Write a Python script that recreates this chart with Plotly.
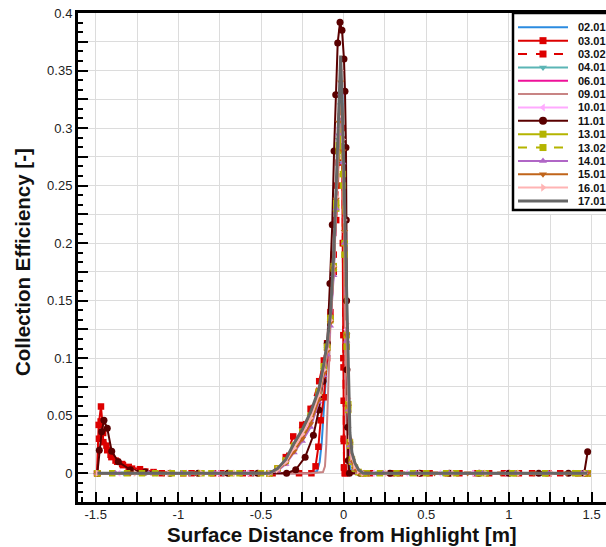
import plotly.graph_objects as go

# ---------------- data ----------------
SERIES_NAMES = ["02.01", "03.01", "03.02", "04.01", "06.01", "09.01", "10.01",
                "11.01", "13.01", "13.02", "14.01", "15.01", "16.01", "17.01"]

# shared surface-distance samples of the main impingement zone (left group)
RISE_X = [-0.45, -0.4, -0.35, -0.3, -0.25, -0.2, -0.15, -0.12, -0.1, -0.08, -0.06,
          -0.045, -0.03, -0.018, -0.005, 0.005, 0.018, 0.028, 0.038, 0.05, 0.068,
          0.09, 0.117]

X_0201 = [-1.49, -0.2, -0.16, -0.145, -0.133, -0.113, -0.095, -0.075, -0.055, -0.035,
          -0.02, -0.008, 0.0, 0.006, 0.014, 0.025, 0.04, 0.06, 1.475]
Y_0201 = [0, 0, 0.002, 0.01, 0.026, 0.069, 0.11, 0.155, 0.21, 0.27,
          0.32, 0.33, 0.26, 0.16, 0.07, 0.02, 0.004, 0, 0]

X_0301 = [-1.492, -1.482, -1.468, -1.46, -1.454, -1.43, -1.405, -1.38, -1.34, -1.30,
          -1.232, -1.15, -0.97, -0.79, -0.61, -0.43, -0.27,
          -0.195, -0.17, -0.153, -0.139, -0.12, -0.1, -0.08, -0.06, -0.04, -0.02,
          -0.01, -0.004, -0.002, -0.001, 0.0, 0.001, 0.003, 0.01,
          0.12, 0.29, 0.46, 0.63, 0.8, 0.97, 1.14, 1.31, 1.475]
Y_0301 = [0, 0.042, 0.058, 0.045, 0.027, 0.02, 0.014, 0.011, 0.008, 0.0055,
          0.0035, 0.001, 0, 0, 0, 0, 0,
          0, 0.006, 0.023, 0.046, 0.066, 0.1, 0.14, 0.19, 0.25, 0.3,
          0.3, 0.2, 0.12, 0.092, 0.063, 0.028, 0.005, 0,
          0, 0, 0, 0, 0, 0, 0, 0, 0]

X_0302 = [-1.49, -1.48, -1.47, -1.455, -1.435, -1.41, -1.37, -1.335, -1.28, -1.2,
          -1.1, -0.92, -0.74, -0.56, -0.45,
          -0.4, -0.35, -0.305, -0.25, -0.2, -0.148, -0.12, -0.1, -0.08, -0.06,
          -0.045, -0.03, -0.018, -0.008, -0.004, -0.002, 0.0, 0.002, 0.006,
          0.16, 0.34, 0.52, 0.7, 0.88, 1.06, 1.24, 1.42, 1.475]
Y_0302 = [0, 0.03, 0.045, 0.035, 0.024, 0.016, 0.01, 0.007, 0.004, 0.0015,
          0, 0, 0, 0, 0,
          0.004, 0.014, 0.032, 0.042, 0.056, 0.08, 0.098, 0.113, 0.135, 0.175,
          0.22, 0.27, 0.3, 0.29, 0.2, 0.1, 0.03, 0.005, 0,
          0, 0, 0, 0, 0, 0, 0, 0, 0]

X_0401 = [-1.49, -1.33, -1.13, -0.93, -0.73, -0.55] + RISE_X + \
         [0.2, 0.4, 0.6, 0.8, 1.0, 1.2, 1.4, 1.475]
Y_0401 = [0, 0, 0, 0, 0, 0] + \
         [0, 0.003, 0.009, 0.02, 0.032, 0.046, 0.068, 0.09, 0.108, 0.132, 0.176,
          0.232, 0.29, 0.32, 0.27, 0.2, 0.12, 0.058, 0.025, 0.011, 0.004, 0.001, 0] + \
         [0, 0, 0, 0, 0, 0, 0, 0]

X_0601 = [-1.49] + RISE_X + [1.475]
Y_0601 = [0] + \
         [0, 0.003, 0.01, 0.021, 0.032, 0.046, 0.067, 0.089, 0.107, 0.132, 0.179,
          0.24, 0.305, 0.34, 0.27, 0.2, 0.11, 0.05, 0.02, 0.008, 0.003, 0.001, 0] + [0]

X_0901 = [-1.49, -0.2, -0.125, -0.113, -0.105, -0.097, -0.089, -0.075, -0.06, -0.04,
          -0.02, -0.008, 0.0, 0.005, 0.012, 0.02, 0.03, 1.475]
Y_0901 = [0, 0, 0.001, 0.006, 0.025, 0.06, 0.098, 0.15, 0.2, 0.26,
          0.31, 0.32, 0.25, 0.15, 0.06, 0.015, 0, 0]

X_1001 = [-1.49, -1.36, -1.16, -0.96, -0.76, -0.58] + RISE_X + \
         [0.18, 0.38, 0.58, 0.78, 0.98, 1.18, 1.38, 1.475]
Y_1001 = [0, 0, 0, 0, 0, 0] + \
         [0, 0.003, 0.009, 0.02, 0.031, 0.045, 0.066, 0.088, 0.105, 0.13, 0.175,
          0.235, 0.3, 0.34, 0.28, 0.21, 0.125, 0.06, 0.027, 0.012, 0.005, 0.001, 0] + \
         [0, 0, 0, 0, 0, 0, 0, 0]

X_1101 = [-1.49, -1.478, -1.464, -1.45, -1.43, -1.403, -1.363, -1.29, -1.2, -1.05,
          -0.88, -0.7, -0.52, -0.345, -0.29, -0.233, -0.183, -0.15, -0.125, -0.099,
          -0.083, -0.069, -0.058, -0.048, -0.036, -0.022, -0.01, 0.002, 0.008, 0.014,
          0.016, 0.018, 0.02, 0.024, 0.028, 0.035,
          0.1, 0.28, 0.46, 0.64, 0.82, 1.0, 1.18, 1.36, 1.455, 1.476]
Y_1101 = [0, 0.02, 0.036, 0.046, 0.039, 0.019, 0.0099, 0.003, 0.001, 0,
          0, 0, 0, 0, 0.003, 0.014, 0.033, 0.055, 0.08, 0.113,
          0.165, 0.216, 0.28, 0.329, 0.374, 0.392, 0.385, 0.36, 0.332, 0.283,
          0.22, 0.15, 0.09, 0.04, 0.011, 0,
          0, 0, 0, 0, 0, 0, 0, 0, 0, 0.0186]

X_1301 = [-1.49, -1.4, -1.22, -1.04, -0.86, -0.68, -0.5] + RISE_X + \
         [0.14, 0.32, 0.5, 0.68, 0.86, 1.04, 1.22, 1.4, 1.475]
Y_1301 = [0, 0, 0, 0, 0, 0, 0] + \
         [0, 0.004, 0.011, 0.024, 0.036, 0.05, 0.071, 0.093, 0.11, 0.135, 0.18,
          0.235, 0.285, 0.31, 0.26, 0.2, 0.12, 0.06, 0.027, 0.012, 0.005, 0.001, 0] + \
         [0, 0, 0, 0, 0, 0, 0, 0, 0]

X_1302 = [-1.49, -1.31, -1.14, -0.97, -0.8, -0.63] + RISE_X + \
         [0.22, 0.42, 0.62, 0.82, 1.02, 1.22, 1.42, 1.475]
Y_1302 = [0, 0, 0, 0, 0, 0] + \
         [0, 0.004, 0.011, 0.023, 0.035, 0.049, 0.07, 0.092, 0.109, 0.133, 0.178,
          0.23, 0.28, 0.3, 0.25, 0.19, 0.11, 0.055, 0.024, 0.01, 0.004, 0.001, 0] + \
         [0, 0, 0, 0, 0, 0, 0, 0]

X_1401 = [-1.49, -1.38, -1.18, -0.98, -0.78, -0.6] + RISE_X + \
         [0.24, 0.44, 0.64, 0.84, 1.04, 1.24, 1.44, 1.475]
Y_1401 = [0, 0, 0, 0, 0, 0] + \
         [0, 0.002, 0.008, 0.018, 0.028, 0.04, 0.062, 0.085, 0.103, 0.128, 0.172,
          0.23, 0.295, 0.33, 0.27, 0.2, 0.115, 0.055, 0.024, 0.01, 0.004, 0.001, 0] + \
         [0, 0, 0, 0, 0, 0, 0, 0]

X_1501 = [-1.49, -1.29, -1.09, -0.89, -0.69, -0.51] + RISE_X + \
         [0.15, 0.35, 0.55, 0.75, 0.95, 1.15, 1.35, 1.475]
Y_1501 = [0, 0, 0, 0, 0, 0] + \
         [0, 0.003, 0.009, 0.019, 0.03, 0.043, 0.064, 0.087, 0.106, 0.131, 0.178,
          0.238, 0.305, 0.34, 0.28, 0.21, 0.12, 0.058, 0.026, 0.011, 0.004, 0.001, 0] + \
         [0, 0, 0, 0, 0, 0, 0, 0]

X_1601 = [-1.49, -1.26, -1.06, -0.86, -0.66] + RISE_X + \
         [0.26, 0.46, 0.66, 0.86, 1.06, 1.26, 1.46]
Y_1601 = [0, 0, 0, 0, 0] + \
         [0, 0.003, 0.01, 0.022, 0.034, 0.048, 0.068, 0.09, 0.108, 0.133, 0.18,
          0.24, 0.31, 0.35, 0.29, 0.22, 0.13, 0.065, 0.03, 0.014, 0.006, 0.002, 0] + \
         [0, 0, 0, 0, 0, 0, 0]

X_1701 = [-1.49] + RISE_X + [1.475]
Y_1701 = [0] + \
         [0, 0.004, 0.012, 0.026, 0.038, 0.053, 0.073, 0.095, 0.113, 0.138, 0.19,
          0.25, 0.32, 0.363, 0.3, 0.238, 0.151, 0.075, 0.035, 0.018, 0.009, 0.003, 0] + [0]

SERIES_X = [X_0201, X_0301, X_0302, X_0401, X_0601, X_0901, X_1001,
            X_1101, X_1301, X_1302, X_1401, X_1501, X_1601, X_1701]
SERIES_Y = [Y_0201, Y_0301, Y_0302, Y_0401, Y_0601, Y_0901, Y_1001,
            Y_1101, Y_1301, Y_1302, Y_1401, Y_1501, Y_1601, Y_1701]

X_TICK_VALUES = [-1.5, -1.25, -1.0, -0.75, -0.5, -0.25, 0.0, 0.25, 0.5, 0.75, 1.0, 1.25, 1.5]
X_TICK_LABELS = ["-1.5", "", "-1", "", "-0.5", "", "0", "", "0.5", "", "1", "", "1.5"]
Y_TICK_VALUES = [0.0, 0.025, 0.05, 0.075, 0.1, 0.125, 0.15, 0.175, 0.2, 0.225,
                 0.25, 0.275, 0.3, 0.325, 0.35, 0.375, 0.4]
Y_TICK_LABELS = ["0", "", "0.05", "", "0.1", "", "0.15", "", "0.2", "",
                 "0.25", "", "0.3", "", "0.35", "", "0.4"]

# ---------------- styles ----------------
STYLES = [
    dict(color="#2b8be0", dash="solid", symbol=None, width=2),
    dict(color="#dd0000", dash="solid", symbol="square", width=2),
    dict(color="#dd0000", dash="dash", symbol="square", width=2),
    dict(color="#5bb5b5", dash="solid", symbol="triangle-down", width=2),
    dict(color="#ee1199", dash="solid", symbol=None, width=2),
    dict(color="#c88484", dash="solid", symbol=None, width=2),
    dict(color="#ffaaff", dash="solid", symbol="triangle-left", width=2),
    dict(color="#5a0000", dash="solid", symbol="circle", width=2),
    dict(color="#b4b400", dash="solid", symbol="square", width=2),
    dict(color="#b4b400", dash="dash", symbol="square", width=2),
    dict(color="#b066c6", dash="solid", symbol="triangle-up", width=2),
    dict(color="#c0641a", dash="solid", symbol="triangle-down", width=2),
    dict(color="#ffb4b4", dash="solid", symbol="triangle-right", width=2),
    dict(color="#666666", dash="solid", symbol=None, width=3),
]

FONT = "Liberation Sans, Arial, Helvetica, sans-serif"
W, H = 606, 547
ML, MR, MT, MB = 78, 0, 13, 45
PW, PH = W - ML - MR, H - MT - MB

fig = go.Figure()

for name, xs, ys, st in zip(SERIES_NAMES, SERIES_X, SERIES_Y, STYLES):
    msize = 7 if st["symbol"] == "circle" else 6.5
    fig.add_trace(go.Scatter(
        x=xs, y=ys, name=name,
        mode="lines+markers" if st["symbol"] else "lines",
        line=dict(color=st["color"], width=st["width"], dash=st["dash"]),
        marker=dict(symbol=st["symbol"] or "circle", size=msize, color=st["color"]),
        showlegend=False, xaxis="x", yaxis="y",
    ))

# ---------------- custom legend (inset axes in pixel units) ----------------
LEG_L, LEG_T, LEG_B = 511, 13, 214
row0, drow = 27.3, 13.36
for i, (name, st) in enumerate(zip(SERIES_NAMES, STYLES)):
    ry = row0 + i * drow
    fig.add_trace(go.Scatter(
        x=[518, 568], y=[ry, ry], mode="lines",
        line=dict(color=st["color"], width=st["width"], dash=st["dash"]),
        showlegend=False, hoverinfo="skip", xaxis="x2", yaxis="y2"))
    if st["symbol"]:
        fig.add_trace(go.Scatter(
            x=[543], y=[ry], mode="markers",
            marker=dict(symbol=st["symbol"], size=8 if st["symbol"] == "circle" else 7,
                        color=st["color"]),
            showlegend=False, hoverinfo="skip", xaxis="x2", yaxis="y2"))
    fig.add_annotation(x=576, y=ry, xref="x2", yref="y2", text=name, showarrow=False,
                       xanchor="left", yanchor="middle",
                       font=dict(family=FONT, size=11, color="#111", weight="bold"))

fig.add_shape(type="rect", xref="x2", yref="y2", x0=513, x1=640, y0=LEG_T, y1=210,
              line=dict(color="black", width=2.5), fillcolor="white", layer="below")

grid_c = "#dcdcdc"
fig.update_layout(
    width=W, height=H, autosize=False,
    margin=dict(l=ML, r=MR, t=MT, b=MB, pad=0),
    paper_bgcolor="white", plot_bgcolor="white",
    font=dict(family=FONT, size=13, color="#222"),
    xaxis=dict(
        domain=[0, 1], range=[-1.607, 1.587],
        tickmode="array", tickvals=X_TICK_VALUES, ticktext=X_TICK_LABELS,
        ticks="inside", ticklen=10, tickwidth=2, tickcolor="black",
        ticklabelstandoff=-2,
        showgrid=True, gridcolor=grid_c, gridwidth=1, zeroline=False,
        showline=True, linecolor="black", linewidth=3, mirror=True,
        tickfont=dict(size=13, color="#222"),
        minor=dict(tickmode="linear", tick0=-1.5, dtick=0.25 / 3, ticks="inside",
                   ticklen=5, tickwidth=1.5, tickcolor="black", showgrid=False),
    ),
    yaxis=dict(
        domain=[0, 1], range=[-0.025, 0.4],
        tickmode="array", tickvals=Y_TICK_VALUES, ticktext=Y_TICK_LABELS,
        ticks="inside", ticklen=10, tickwidth=2, tickcolor="black",
        showgrid=True, gridcolor=grid_c, gridwidth=1, zeroline=False,
        showline=True, linecolor="black", linewidth=3, mirror=False,
        tickfont=dict(size=13, color="#222"),
        minor=dict(tickmode="linear", tick0=0, dtick=0.025 / 3, ticks="inside",
                   ticklen=5, tickwidth=1.5, tickcolor="black", showgrid=False),
    ),
    xaxis2=dict(domain=[(LEG_L - ML) / PW, 1], range=[LEG_L, W], visible=False,
                fixedrange=True, anchor="y2"),
    yaxis2=dict(domain=[(H - MB - LEG_B) / PH, 1], range=[LEG_B, LEG_T], visible=False,
                fixedrange=True, anchor="x2"),
)

# axis titles
fig.add_annotation(x=(342 - ML) / PW, y=-(534 - (H - MB)) / PH, xref="paper", yref="paper",
                   text="Surface Distance from Highlight [m]", showarrow=False,
                   xanchor="center", yanchor="middle",
                   font=dict(family=FONT, size=20.5, color="#111", weight="bold"))
fig.add_annotation(x=(22 - ML) / PW, y=((H - MB) - 262) / PH, xref="paper", yref="paper",
                   text="Collection Efficiency [-]", showarrow=False, textangle=-90,
                   xanchor="center", yanchor="middle",
                   font=dict(family=FONT, size=20.5, color="#111", weight="bold"))

fig.write_html("out.html")
